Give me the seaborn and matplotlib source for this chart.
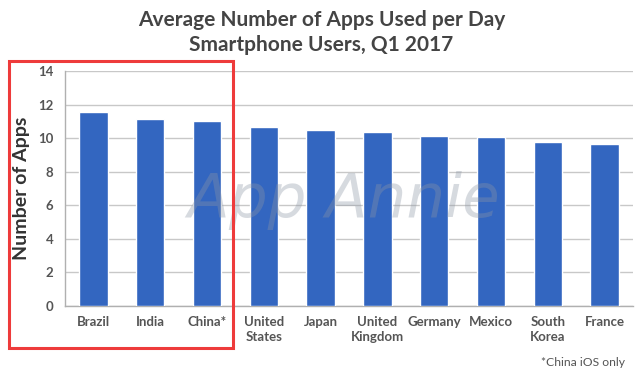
import matplotlib
matplotlib.use("Agg")
import matplotlib.pyplot as plt
import pandas as pd
import seaborn as sns
from matplotlib.patches import Rectangle

countries = ["Brazil", "India", "China*", "United\nStates", "Japan", "United\nKingdom",
             "Germany", "Mexico", "South\nKorea", "France"]
apps_per_day = [11.55, 11.13, 11.05, 10.68, 10.46, 10.38, 10.12, 10.08, 9.80, 9.64]
y_ticks = [0, 2, 4, 6, 8, 10, 12, 14]

df = pd.DataFrame({"country": countries, "apps": apps_per_day})

sns.set_theme(style="white")
plt.rcParams["font.family"] = ["Lato", "DejaVu Sans"]

fig = plt.figure(figsize=(6.43, 3.77), dpi=100)
ax = fig.add_axes([65 / 643, 1 - 306 / 377, 568 / 643, 235 / 377])

sns.barplot(data=df, x="country", y="apps", color="#3366c0", saturation=1,
            width=0.5, ax=ax, zorder=3)

ax.set_ylim(0, 14)
ax.set_xlim(-0.5, len(countries) - 0.5)
ax.set_yticks(y_ticks)
ax.yaxis.grid(True, color="#c8c8c8", linewidth=1, zorder=0)
ax.set_axisbelow(True)
for side in ["top", "right"]:
    ax.spines[side].set_visible(False)
for side in ["left", "bottom"]:
    ax.spines[side].set_color("#b0b0b0")
    ax.spines[side].set_linewidth(1)

ax.tick_params(axis="x", length=0, labelsize=9.5, labelcolor="#555555", pad=7.5)
ax.tick_params(axis="y", length=0, labelsize=9.5, labelcolor="#555555", pad=8.5)
for lbl in ax.get_xticklabels() + ax.get_yticklabels():
    lbl.set_fontweight("bold")
for lbl in ax.get_xticklabels():
    lbl.set_verticalalignment("top")
    lbl.set_linespacing(1.3)

ax.set_xlabel("")
ax.set_ylabel("Number of Apps", fontsize=14, fontweight="bold", color="#333333")
ax.yaxis.set_label_coords(-0.062, 0.5)

fig.text(0.5, 1 - 20 / 377, "Average Number of Apps Used per Day", ha="center", va="center",
         fontsize=15, fontweight="bold", color="#444444")
fig.text(0.5, 1 - 45 / 377, "Smartphone Users, Q1 2017", ha="center", va="center",
         fontsize=15, fontweight="bold", color="#444444")

# watermark
fig.text(0.535, 1 - 200 / 377, "App Annie", ha="center", va="center", fontsize=44,
         style="italic", family="DejaVu Sans Condensed",
         color="#8c96a5", alpha=0.35, zorder=10)

fig.text(1 - 18 / 643, 1 - 363 / 377, "*China iOS only", ha="right", va="center",
         fontsize=8.7, color="#555555")

# red highlight box
fig.patches.append(Rectangle((9 / 643, 1 - 348 / 377), 224 / 643, 287 / 377,
                             transform=fig.transFigure, fill=False,
                             edgecolor="#ee3b3b", linewidth=2.2, zorder=20))

fig.savefig("out.png", dpi=100, facecolor="white")
